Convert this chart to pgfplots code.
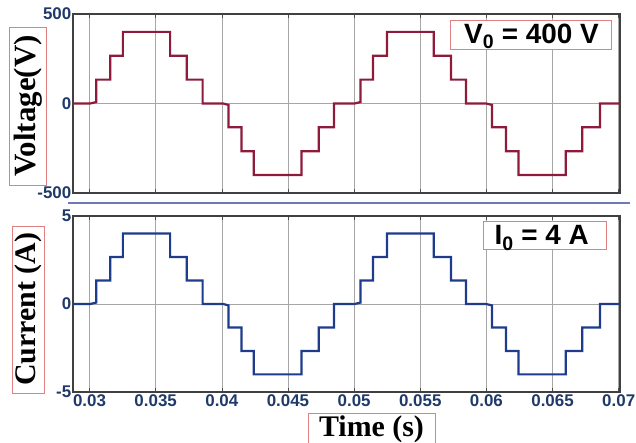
\documentclass[border=0pt]{standalone}
\usepackage{fontspec}
\setmainfont{Liberation Serif}
\newfontfamily\arial{Liberation Sans}
\usepackage{pgfplots}
\pgfplotsset{compat=1.18}
\definecolor{vred}{HTML}{8E1B3B}
\definecolor{iblue}{HTML}{1F3C8C}
\definecolor{tickblue}{HTML}{1F3A6A}
\definecolor{divider}{HTML}{7078B8}
\definecolor{boxred}{HTML}{E08080}
\pgfplotsset{
  myax/.style={
    scale only axis, width=547bp, anchor=south west,
    xmin=0.02875, xmax=0.0701, scaled x ticks=false, scaled y ticks=false,
    xtick={0.03,0.035,0.04,0.045,0.05,0.055,0.06,0.065,0.07},
    grid=major, grid style={gray!70, line width=0.6bp},
    axis line style={black!75, line width=1.1bp},
    tick style={black!70, line width=0.6bp}, major tick length=4bp, tick align=inside,
    ticklabel style={font=\arial\bfseries\fontsize{17}{18}\selectfont, text=tickblue},
    yticklabel style={inner sep=1.5bp},
    xticklabel style={inner sep=2.5bp},
    clip=false,
  }
}
\begin{document}
\begin{tikzpicture}[x=1bp,y=1bp]
\path[use as bounding box] (0,0) rectangle (636,443);
% Voltage
\begin{axis}[myax, at={(73bp,250bp)}, height=179bp, ymin=-500, ymax=500,
  ytick={-500,0,500}, yticklabels={-500,0,500}, xticklabels={}]
\addplot[vred, line width=2.2bp] coordinates {
(0.02875,0) (0.03005,0) (0.0305,8) (0.0305,133.3) (0.03156,133.3) (0.03156,266.7) (0.03252,266.7) (0.03252,400) (0.03609,400) (0.03609,266.7) (0.03735,266.7) (0.03735,133.3) (0.03855,133.3) (0.03855,0) (0.0401,0) (0.0405,-8) (0.0405,-133.3) (0.04149,-133.3) (0.04149,-266.7) (0.04242,-266.7) (0.04242,-400) (0.04602,-400) (0.04602,-266.7) (0.04732,-266.7) (0.04732,-133.3) (0.04848,-133.3) (0.04848,0) (0.05004,0) (0.05049,8) (0.05049,133.3) (0.05142,133.3) (0.05142,266.7) (0.05248,266.7) (0.05248,400) (0.05602,400) (0.05602,266.7) (0.05733,266.7) (0.05733,133.3) (0.05846,133.3) (0.05846,0) (0.05997,0) (0.06042,-8) (0.06042,-133.3) (0.06148,-133.3) (0.06148,-266.7) (0.06243,-266.7) (0.06243,-400) (0.0660,-400) (0.0660,-266.7) (0.06725,-266.7) (0.06725,-133.3) (0.06859,-133.3) (0.06859,0) (0.0701,0)
};
\end{axis}
% Current
\begin{axis}[myax, at={(73bp,51bp)}, height=176bp, ymin=-5, ymax=5,
  ytick={-5,0,5}, yticklabels={-5,0,5},
  xticklabels={0.03,0.035,0.04,0.045,0.05,0.055,0.06,0.065,0.07}]
\addplot[iblue, line width=2.2bp] coordinates {
(0.02875,0) (0.03005,0) (0.0305,0.08) (0.0305,1.333) (0.03156,1.333) (0.03156,2.667) (0.03252,2.667) (0.03252,4) (0.03609,4) (0.03609,2.667) (0.03735,2.667) (0.03735,1.333) (0.03855,1.333) (0.03855,0) (0.0401,0) (0.0405,-0.08) (0.0405,-1.333) (0.04149,-1.333) (0.04149,-2.667) (0.04242,-2.667) (0.04242,-4) (0.04602,-4) (0.04602,-2.667) (0.04732,-2.667) (0.04732,-1.333) (0.04848,-1.333) (0.04848,0) (0.05004,0) (0.05049,0.08) (0.05049,1.333) (0.05142,1.333) (0.05142,2.667) (0.05248,2.667) (0.05248,4) (0.05602,4) (0.05602,2.667) (0.05733,2.667) (0.05733,1.333) (0.05846,1.333) (0.05846,0) (0.05997,0) (0.06042,-0.08) (0.06042,-1.333) (0.06148,-1.333) (0.06148,-2.667) (0.06243,-2.667) (0.06243,-4) (0.0660,-4) (0.0660,-2.667) (0.06725,-2.667) (0.06725,-1.333) (0.06859,-1.333) (0.06859,0) (0.0701,0)
};
\end{axis}
% divider
\draw[divider, line width=1.3bp] (68,240) -- (630,240);
% axis label boxes
\draw[boxred, line width=0.8bp] (9,258) rectangle (46.7,416);
\node[rotate=90, inner sep=0] at (28,337) {\bfseries\fontsize{31}{34}\selectfont Voltage(V)};
\draw[boxred, line width=0.8bp] (12,50) rectangle (44,217);
\node[rotate=90, inner sep=0] at (28,133.5) {\bfseries\fontsize{30}{33}\selectfont Current (A)};
\draw[boxred, line width=0.8bp] (308,-5) rectangle (435,30);
\node[anchor=base, inner sep=0] at (371.5,6.5) {\bfseries\fontsize{30}{33}\selectfont Time (s)};
% annotations
\draw[boxred, line width=0.8bp, fill=white] (450.7,393.7) rectangle (611.7,422.3);
\node[anchor=base, inner sep=0] at (531.5,399.7) {\arial\bfseries\fontsize{28}{30}\selectfont V\textsubscript{0} = 400 V};
\draw[boxred, line width=0.8bp, fill=white] (483.3,193.7) rectangle (606.7,221.3);
\node[anchor=base, inner sep=0] at (541.7,198) {\arial\bfseries\fontsize{28}{30}\selectfont I\textsubscript{0} = 4 A};
\end{tikzpicture}
\end{document}
